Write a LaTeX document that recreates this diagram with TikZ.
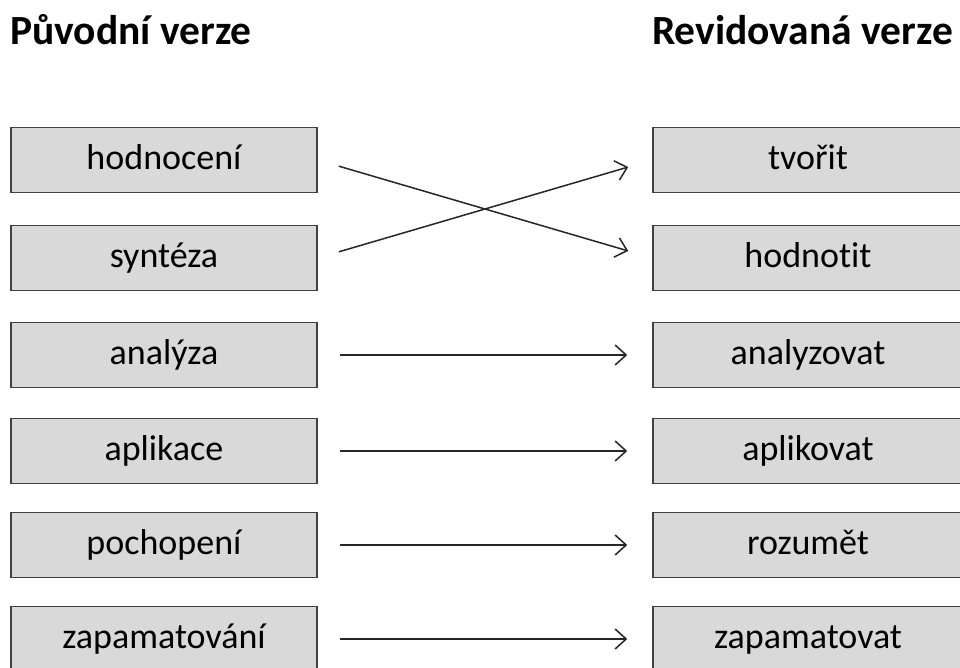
\documentclass[tikz,border=0pt]{standalone}
\usepackage{fontspec}
\setmainfont{Carlito}[Ligatures=NoCommon]
\usetikzlibrary{arrows.meta}
\begin{document}
\begin{tikzpicture}[x=1pt,y=-1pt,
  box/.style={draw=black!75, line width=1.5pt, fill=black!15, minimum width=306pt, minimum height=65pt, inner sep=0pt, text height=28pt, text depth=9pt, font=\fontsize{36}{40}\selectfont},
  wide/.style={minimum width=310pt},
  heading/.style={anchor=base west, inner sep=0pt, font=\fontsize{41.5}{44}\selectfont\bfseries},
  link/.style={line width=1.5pt, draw=black!85, -{Straight Barb[length=11pt,width=20pt]}, shorten <=22pt, shorten >=25pt}]
\useasboundingbox (0,0) rectangle (960,668);
\node[heading] (old) at (10,45) {Původní verze};
\node[heading] (new) at (652,45) {Revidovaná verze};
% original version
\node[box] (l1) at (164,160) {hodnocení};
\node[box] (l2) at (164,258) {syntéza};
\node[box] (l3) at (164,355) {analýza};
\node[box] (l4) at (164,451) {aplikace};
\node[box] (l5) at (164,545) {pochopení};
\node[box] (l6) at (164,639) {zapamatování};
% revised version
\node[box, wide] (r1) at (808,160) {tvořit};
\node[box, wide] (r2) at (808,258) {hodnotit};
\node[box, wide] (r3) at (808,355) {analyzovat};
\node[box, wide] (r4) at (808,451) {aplikovat};
\node[box, wide] (r5) at (808,545) {rozumět};
\node[box, wide] (r6) at (808,639) {zapamatovat};
\draw[link] (l1.east) -- (r2.west);
\draw[link] (l2.east) -- (r1.west);
\draw[link] (l3) -- (r3);
\draw[link] (l4) -- (r4);
\draw[link] (l5) -- (r5);
\draw[link] (l6) -- (r6);
\end{tikzpicture}
\end{document}
